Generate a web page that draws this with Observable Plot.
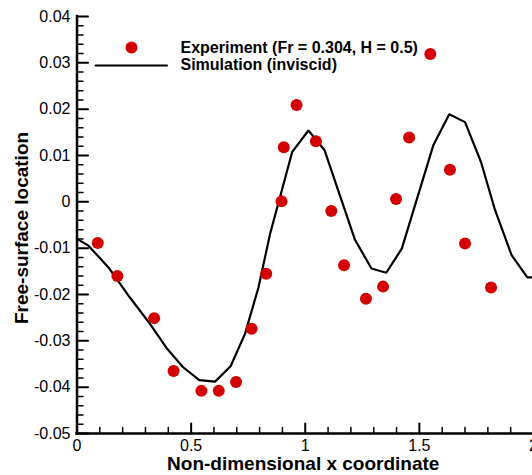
<!DOCTYPE html>
<html><head><meta charset="utf-8">
<script src="https://cdn.jsdelivr.net/npm/d3@7"></script>
<script src="https://cdn.jsdelivr.net/npm/@observablehq/plot@0.6"></script>
<style>body{margin:0;background:#fff;} svg{display:block}</style>
</head><body><div id="chart"></div>
<script>
// Experiment (Fr = 0.304, H = 0.5)
const expX = [0.091, 0.177, 0.338, 0.423, 0.545, 0.621, 0.697, 0.765, 0.829, 0.896, 0.906, 0.962, 1.047, 1.114, 1.170, 1.266, 1.341, 1.398, 1.455, 1.548, 1.634, 1.700, 1.814];
const expY = [-0.0089, -0.0160, -0.0251, -0.0365, -0.0408, -0.0408, -0.0389, -0.0274, -0.0155, 0.0001, 0.0118, 0.0209, 0.0131, -0.0020, -0.0137, -0.0209, -0.0183, 0.0006, 0.0139, 0.0319, 0.0069, -0.0090, -0.0185];
// Simulation (inviscid)
const simX = [0, 0.049, 0.137, 0.231, 0.319, 0.393, 0.465, 0.536, 0.605, 0.673, 0.736, 0.795, 0.846, 0.943, 1.014, 1.084, 1.218, 1.290, 1.355, 1.423, 1.561, 1.631, 1.700, 1.770, 1.831, 1.904, 1.973, 2.0];
const simY = [-0.0080, -0.0094, -0.0141, -0.0206, -0.0263, -0.0316, -0.0357, -0.0385, -0.0388, -0.0355, -0.0285, -0.0185, -0.0069, 0.0108, 0.0154, 0.0112, -0.0082, -0.0144, -0.0153, -0.0101, 0.0122, 0.0189, 0.0172, 0.0086, -0.0017, -0.0115, -0.0163, -0.0163];

const xTicks = [0, 0.5, 1, 1.5, 2];
const xTickLabels = ["0", "0.5", "1", "1.5", "2"];
const xMinor = [0.1, 0.2, 0.3, 0.4, 0.6, 0.7, 0.8, 0.9, 1.1, 1.2, 1.3, 1.4, 1.6, 1.7, 1.8, 1.9];
const yTicks = [0.04, 0.03, 0.02, 0.01, 0, -0.01, -0.02, -0.03, -0.04, -0.05];
const yTickLabels = ["0.04", "0.03", "0.02", "0.01", "0", "-0.01", "-0.02", "-0.03", "-0.04", "-0.05"];
const yMinor = d3.range(-50, 41, 2).filter(v => v % 10 !== 0).map(v => v / 1000);

const legendLabels = ["Experiment (Fr = 0.304, H = 0.5)", "Simulation (inviscid)"];
const xTitle = "Non-dimensional x coordinate";
const yTitle = "Free-surface location";

const expData = expX.map((x, i) => ({x, y: expY[i]}));
const simData = simX.map((x, i) => ({x, y: simY[i]}));

const red = "#d40000";
const tickShape = {draw(ctx, l) { ctx.moveTo(0, 0); ctx.lineTo(0, -l); }};
const font = "'Liberation Sans', Arial, Helvetica, sans-serif";

const chart = Plot.plot({
  width: 532, height: 475,
  marginLeft: 76.5, marginRight: -1, marginTop: 16, marginBottom: 42,
  x: {domain: [0, 2], axis: null},
  y: {domain: [-0.05, 0.04], axis: null},
  style: {fontFamily: font, background: "white", color: "black", overflow: "visible"},
  marks: [
    Plot.line(simData, {x: "x", y: "y", stroke: "black", strokeWidth: 2.2, strokeLinejoin: "miter"}),
    Plot.dot(expData, {x: "x", y: "y", r: 6, fill: red, stroke: "none"}),
    // axis lines
    Plot.ruleX([0], {stroke: "black", strokeWidth: 2.5, strokeLinecap: "square"}),
    Plot.ruleY([-0.05], {stroke: "black", strokeWidth: 2.5, strokeLinecap: "square"}),
    // x ticks (inward)
    Plot.vector(xTicks, {x: d => d, frameAnchor: "bottom", length: 10, rotate: 0, anchor: "start", shape: tickShape, stroke: "black", strokeWidth: 2}),
    Plot.vector(xMinor, {x: d => d, frameAnchor: "bottom", length: 6, rotate: 0, anchor: "start", shape: tickShape, stroke: "black", strokeWidth: 1.5}),
    // y ticks (inward)
    Plot.vector(yTicks, {y: d => d, frameAnchor: "left", length: 11, rotate: 90, anchor: "start", shape: tickShape, stroke: "black", strokeWidth: 2}),
    Plot.vector(yMinor, {y: d => d, frameAnchor: "left", length: 6, rotate: 90, anchor: "start", shape: tickShape, stroke: "black", strokeWidth: 1.5}),
    // tick labels
    Plot.text(xTicks, {x: d => d, text: (d, i) => xTickLabels[i], frameAnchor: "bottom", textAnchor: "middle", lineAnchor: "middle", dy: 12, fontSize: 16, fill: "black"}),
    Plot.text(yTicks, {y: d => d, text: (d, i) => yTickLabels[i], frameAnchor: "left", textAnchor: "end", lineAnchor: "middle", dx: -6.5, fontSize: 16, fill: "black"}),
    // axis titles
    Plot.text([xTitle], {frameAnchor: "bottom", textAnchor: "middle", lineAnchor: "middle", dy: 30, dx: -2, fontSize: 19, fontWeight: "bold", fill: "black"}),
    Plot.text([yTitle], {frameAnchor: "left", textAnchor: "middle", lineAnchor: "middle", rotate: -90, dx: -55, dy: 3, fontSize: 19, fontWeight: "bold", fill: "black"}),
    // legend
    Plot.dot([legendLabels[0]], {frameAnchor: "top-left", dx: 54.5, dy: 31, r: 6, fill: red, stroke: "none"}),
    Plot.vector([legendLabels[1]], {frameAnchor: "top-left", dx: 18.5, dy: 49, length: 71.5, rotate: 90, anchor: "start", shape: tickShape, stroke: "black", strokeWidth: 2}),
    Plot.text([legendLabels[0]], {frameAnchor: "top-left", text: d => d, dx: 103.5, dy: 31, textAnchor: "start", lineAnchor: "middle", fontSize: 16, fontWeight: "bold", fill: "black"}),
    Plot.text([legendLabels[1]], {frameAnchor: "top-left", text: d => d, dx: 103.5, dy: 48.5, textAnchor: "start", lineAnchor: "middle", fontSize: 16, fontWeight: "bold", fill: "black"})
  ]
});
document.getElementById("chart").appendChild(chart);
</script>
</body></html>
